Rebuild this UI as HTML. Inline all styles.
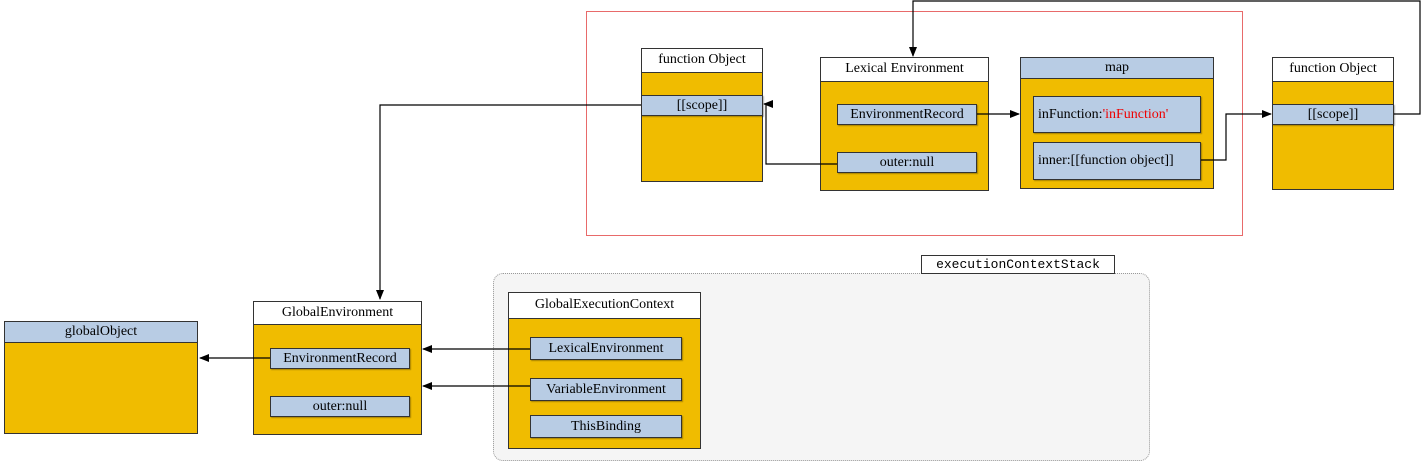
<!DOCTYPE html>
<html><head><meta charset="utf-8"><style>
body{margin:0;width:1427px;height:463px;background:#fff;position:relative;overflow:hidden;font-family:"Liberation Serif",serif;font-size:14px;color:#000}
.b{position:absolute;box-sizing:border-box;border:1px solid #333;background:#f0bc00}
.h{position:absolute;left:0;right:0;top:0;box-sizing:border-box;border-bottom:1px solid #333;background:#fff;text-align:center}
.r{position:absolute;box-sizing:border-box;border:1px solid #333;background:#b8cce4;text-align:center;box-shadow:1px 1px 1px rgba(0,0,0,.3)}
.abs{position:absolute}
svg{position:absolute;left:0;top:0}
</style></head><body>
<div class="abs" style="left:586px;top:11px;width:657px;height:225px;border:1px solid #e86a6a;box-sizing:border-box"></div>
<div class="abs" style="left:493px;top:273px;width:657px;height:188px;border:1px dotted #999;border-radius:10px;background:#f5f5f5;box-sizing:border-box"></div>
<div class="abs" style="left:921px;top:255px;width:194px;height:19px;border:1px solid #333;background:#fff;box-sizing:border-box;font-family:'Liberation Mono',monospace;font-size:13px;text-align:center;line-height:17px">executionContextStack</div>

<div class="b" style="left:641px;top:48px;width:122px;height:134px"><div class="h" style="height:24px;line-height:22px">function Object</div></div>
<div class="r" style="left:641px;top:95px;width:122px;height:21px;line-height:19px">[[scope]]</div>

<div class="b" style="left:820px;top:57px;width:169px;height:134px"><div class="h" style="height:24px;line-height:22px">Lexical Environment</div></div>
<div class="r" style="left:837px;top:104px;width:140px;height:21px;line-height:19px">EnvironmentRecord</div>
<div class="r" style="left:837px;top:152px;width:140px;height:21px;line-height:19px">outer:null</div>

<div class="b" style="left:1020px;top:57px;width:194px;height:132px"><div class="h" style="height:21px;line-height:19px;background:#b8cce4">map</div></div>
<div class="r" style="left:1033px;top:96px;width:168px;height:37px;line-height:35px;text-align:left;padding-left:4px">inFunction:<span style="color:#e00">'inFunction'</span></div>
<div class="r" style="left:1033px;top:142px;width:168px;height:38px;line-height:36px;text-align:left;padding-left:4px">inner:[[function object]]</div>

<div class="b" style="left:1272px;top:57px;width:122px;height:133px"><div class="h" style="height:24px;line-height:22px">function Object</div></div>
<div class="r" style="left:1272px;top:104px;width:122px;height:21px;line-height:19px">[[scope]]</div>

<div class="b" style="left:4px;top:321px;width:194px;height:113px"><div class="h" style="height:21px;line-height:19px;background:#b8cce4">globalObject</div></div>

<div class="b" style="left:253px;top:301px;width:169px;height:134px"><div class="h" style="height:23px;line-height:21px">GlobalEnvironment</div></div>
<div class="r" style="left:270px;top:348px;width:140px;height:21px;line-height:19px">EnvironmentRecord</div>
<div class="r" style="left:270px;top:396px;width:140px;height:21px;line-height:19px">outer:null</div>

<div class="b" style="left:508px;top:292px;width:193px;height:157px"><div class="h" style="height:26px;line-height:24px">GlobalExecutionContext</div></div>
<div class="r" style="left:530px;top:337px;width:152px;height:23px;line-height:21px">LexicalEnvironment</div>
<div class="r" style="left:530px;top:378px;width:152px;height:23px;line-height:21px">VariableEnvironment</div>
<div class="r" style="left:530px;top:415px;width:152px;height:23px;line-height:21px">ThisBinding</div>

<svg width="1427" height="463">
<defs><marker id="a" markerWidth="10" markerHeight="8" refX="9" refY="4" orient="auto" markerUnits="userSpaceOnUse"><path d="M0,0L10,4L0,8z" fill="#000"/></marker></defs>
<g fill="none" stroke="#000" stroke-width="1.2">
<path d="M1394,114H1420V1H913V56" marker-end="url(#a)"/>
<path d="M977,114H1019" marker-end="url(#a)"/>
<path d="M1201,160H1226V114H1271" marker-end="url(#a)"/>
<path d="M837,164H766V104H764" marker-end="url(#a)"/>
<path d="M641,105H380V299" marker-end="url(#a)"/>
<path d="M270,358H200" marker-end="url(#a)"/>
<path d="M530,349H423" marker-end="url(#a)"/>
<path d="M530,386H423" marker-end="url(#a)"/>
</g></svg>
</body></html>
